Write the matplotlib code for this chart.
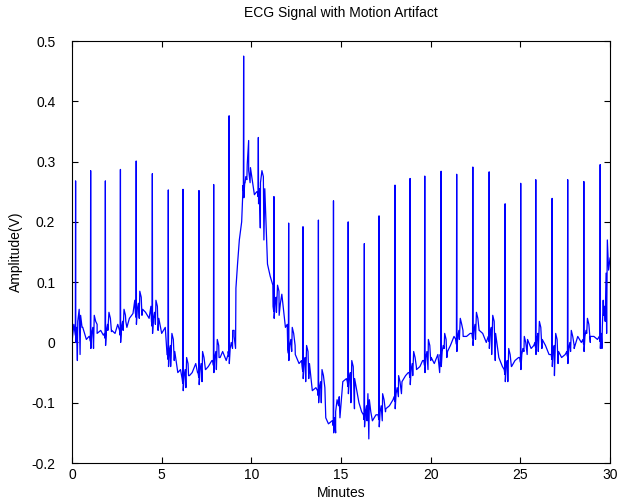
import matplotlib.pyplot as plt
import numpy as np

plt.rcParams['font.family'] = ['Liberation Sans', 'DejaVu Sans']

# region Data
# slow baseline / motion artifact, minutes -> volts
base_t = [0.0, 0.1, 0.3, 0.45, 0.6, 0.8, 0.95, 1.2, 1.4, 1.6, 1.75, 2.0, 2.2, 2.4, 2.55, 2.85, 3.0, 3.2, 3.4,
          3.5, 3.75, 3.9, 4.1, 4.3, 4.4, 4.65, 4.8, 5.0, 5.2, 5.3, 5.5, 5.7, 5.9, 6.05, 6.35, 6.5, 6.7, 6.9,
          7.0, 7.25, 7.45, 7.6, 7.8, 8.05, 8.2, 8.4, 8.6, 8.7, 8.95, 9.04, 9.14, 9.23, 9.33, 9.46, 9.52, 9.65,
          9.75, 9.85, 9.95, 10.05, 10.17, 10.3, 10.5, 10.7, 10.9, 11.05, 11.2, 11.4, 11.55, 11.7, 11.9, 12.0,
          12.25, 12.45, 12.66, 12.8, 13.03, 13.2, 13.4, 13.6, 13.9, 14.15, 14.3, 14.5, 14.7, 14.9, 15.1, 15.3,
          15.55, 15.75, 16.0, 16.15, 16.45, 16.55, 16.75, 16.95, 17.3, 17.5, 17.7, 17.9, 18.2, 18.4, 18.6,
          18.75, 19.0, 19.2, 19.4, 19.55, 19.85, 20.0, 20.2, 20.4, 20.5, 20.75, 20.9, 21.1, 21.3, 21.6, 21.8,
          22.0, 22.2, 22.5, 22.7, 22.9, 23.1, 23.4, 23.6, 23.8, 24.0, 24.3, 24.5, 24.7, 24.9, 25.2, 25.4,
          25.6, 25.75, 26.0, 26.2, 26.4, 26.6, 26.9, 27.1, 27.3, 27.5, 27.8, 28.0, 28.2, 28.4, 28.7, 28.9,
          29.1, 29.3, 29.55, 29.62, 29.7, 29.78, 29.85, 29.92, 30.0]
base_v = [0.0, 0.03, -0.03, -0.02, 0.025, 0.005, 0.01, -0.01, 0.03, 0.02, 0.012, 0.02, 0.018, 0.015, 0.03,
          0.02, 0.035, 0.04, 0.048, 0.07, 0.04, 0.045, 0.05, 0.04, 0.06, 0.03, 0.02, 0.015, 0.025, -0.02,
          -0.04, -0.03, -0.05, -0.045, -0.075, -0.055, -0.05, -0.035, -0.05, -0.065, -0.045, -0.04, -0.03,
          -0.045, -0.025, -0.015, -0.03, -0.02, -0.01, 0.02, 0.09, 0.13, 0.17, 0.2, 0.245, 0.265, 0.27,
          0.335, 0.29, 0.27, 0.245, 0.25, 0.19, 0.17, 0.13, 0.11, 0.095, 0.05, 0.045, 0.08, 0.025, 0.03,
          -0.015, -0.02, -0.035, -0.03, -0.065, -0.06, -0.08, -0.075, -0.1, -0.125, -0.135, -0.13, -0.15,
          -0.09, -0.065, -0.06, -0.1, -0.11, -0.1, -0.115, -0.13, -0.16, -0.13, -0.12, -0.13, -0.11, -0.105,
          -0.095, -0.09, -0.065, -0.055, -0.05, -0.055, -0.04, -0.04, -0.03, -0.045, -0.03, -0.035, -0.02,
          -0.05, -0.01, -0.025, -0.005, 0.01, 0.005, 0.02, 0.01, 0.015, 0.005, 0.02, 0.015, 0.0, -0.02, -0.03,
          -0.025, -0.04, -0.065, -0.04, -0.03, -0.025, -0.015, 0.005, -0.01, -0.005, -0.015, -0.01, -0.005,
          -0.02, -0.055, -0.035, -0.025, -0.02, -0.015, -0.005, 0.01, 0.0, 0.015, 0.0, 0.01, 0.005, -0.01,
          0.07, 0.06, 0.115, 0.17, 0.12, 0.14]

# R peaks
beat_t = [0.2, 1.04, 1.86, 2.7, 3.58, 4.48, 5.37, 6.19, 7.08, 7.9, 8.76, 9.57, 10.39, 11.26, 12.08, 12.88,
          13.74, 14.58, 15.4, 16.3, 17.12, 18.01, 18.85, 19.67, 20.58, 21.45, 22.35, 23.26, 24.15, 25.02,
          25.86, 26.77, 27.64, 28.54, 29.45]
beat_peak = [0.268, 0.285, 0.268, 0.287, 0.301, 0.28, 0.253, 0.254, 0.252, 0.262, 0.376, 0.475, 0.34, 0.242,
             0.198, 0.192, 0.203, 0.235, 0.2, 0.164, 0.21, 0.261, 0.272, 0.276, 0.284, 0.279, 0.291, 0.283,
             0.23, 0.264, 0.27, 0.239, 0.27, 0.267, 0.295]
beat_base = [0.02, 0.01, 0.015, 0.02, 0.05, 0.035, -0.02, -0.06, -0.05, -0.03, -0.015, 0.26, 0.25, 0.06,
             -0.01, -0.04, -0.08, -0.13, -0.065, -0.12, -0.12, -0.09, -0.05, -0.03, -0.02, 0.005, 0.015, 0.01,
             -0.045, -0.025, 0.0, -0.02, -0.015, 0.005, 0.01]

# shape of one beat around the R peak (offset in minutes, volts above the local baseline)
qrs_off = [-0.05, -0.015, 0.012, 0.03, 0.06, 0.12, 0.2, 0.28, 0.36]
qrs_rel = [0.0, -0.008, -0.02, -0.01, 0.005, 0.015, 0.035, 0.025, 0.005]
# endregion

t_pts = list(base_t)
v_pts = list(base_v)
for bt, bp, bb in zip(beat_t, beat_peak, beat_base):
    t_pts.append(bt)
    v_pts.append(bp)
    for off, rel in zip(qrs_off, qrs_rel):
        if 0 <= bt + off <= 30:
            t_pts.append(bt + off)
            v_pts.append(bb + rel)

order = np.argsort(t_pts, kind='stable')
t_pts = np.array(t_pts)[order]
v_pts = np.array(v_pts)[order]

fig = plt.figure(figsize=(6.17, 4.99), dpi=100)
ax = fig.add_axes([0.1167, 0.0721, 0.8720, 0.8457])
ax.plot(t_pts, v_pts, color='#0000ff', linewidth=0.9)

ax.set_xlim(0, 30)
ax.set_ylim(-0.2, 0.5)
ax.set_xticks(np.arange(0, 31, 5))
ax.set_yticks(np.arange(-0.2, 0.51, 0.1))
ax.set_yticklabels(['-0.2', '-0.1', '0', '0.1', '0.2', '0.3', '0.4', '0.5'])
ax.tick_params(direction='in', top=True, right=True, length=4, labelsize=10)
ax.tick_params(axis='y', pad=12)
for s in ax.spines.values():
    s.set_linewidth(0.8)

ax.set_title('ECG Signal with Motion Artifact', fontsize=10, pad=17)
ax.set_xlabel('Minutes', fontsize=10, labelpad=3)
ax.set_ylabel('Amplitude(V)', fontsize=10, labelpad=6)

plt.savefig('out.png', dpi=100)
plt.close()
